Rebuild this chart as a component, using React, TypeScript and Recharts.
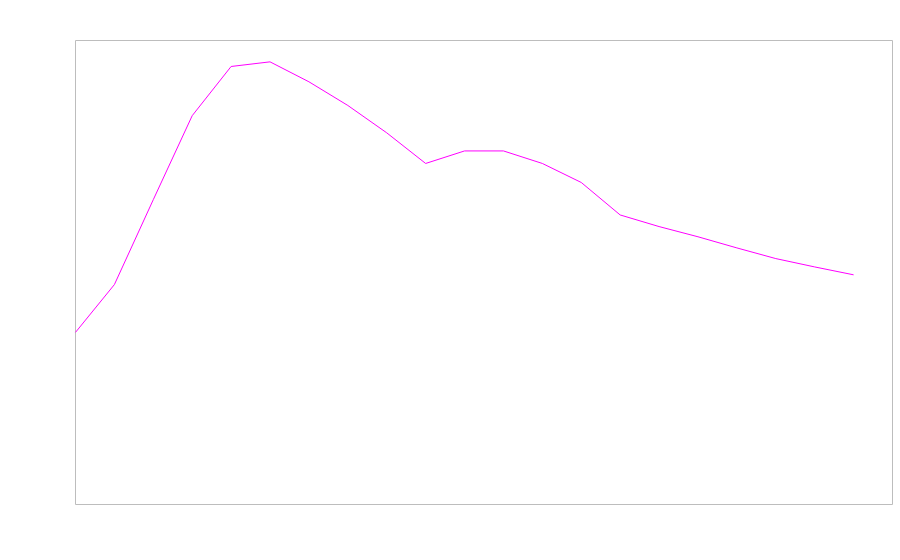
import { LineChart, Line, XAxis, YAxis, ReferenceArea } from 'recharts';

// x positions (index) and read-off values for the single series
const steps = [0, 1, 2, 3, 4, 5, 6, 7, 8, 9, 10, 11, 12, 13, 14, 15, 16, 17, 18, 19, 20];
const values = [
  37.1, 47.4, 65.7, 83.8, 94.4, 95.4, 91.1, 86.0, 80.1, 73.5, 76.2,
  76.2, 73.5, 69.4, 62.4, 59.9, 57.7, 55.3, 53.0, 51.2, 49.5,
];
const xDomain = [0, 21];
const yDomain = [0, 100];

const data = steps.map((s, i) => ({ step: s, value: values[i] }));

export default function App() {
  return (
    <div style={{ width: 900, height: 552 }}>
      <style>{'body{margin:0}'}</style>
      <LineChart
        width={900}
        height={552}
        data={data}
        margin={{ top: 40.5, left: 75.5, right: 7.5, bottom: 47.5 }}
      >
        <XAxis dataKey="step" type="number" domain={xDomain} hide />
        <YAxis type="number" domain={yDomain} hide />
        <ReferenceArea
          x1={xDomain[0]}
          x2={xDomain[1]}
          y1={yDomain[0]}
          y2={yDomain[1]}
          fill="none"
          fillOpacity={0}
          stroke="#bdbdbd"
          strokeWidth={1}
        />
        <Line
          type="linear"
          dataKey="value"
          stroke="#ff00ff"
          strokeWidth={1}
          dot={false}
          activeDot={false}
          isAnimationActive={false}
        />
      </LineChart>
    </div>
  );
}
